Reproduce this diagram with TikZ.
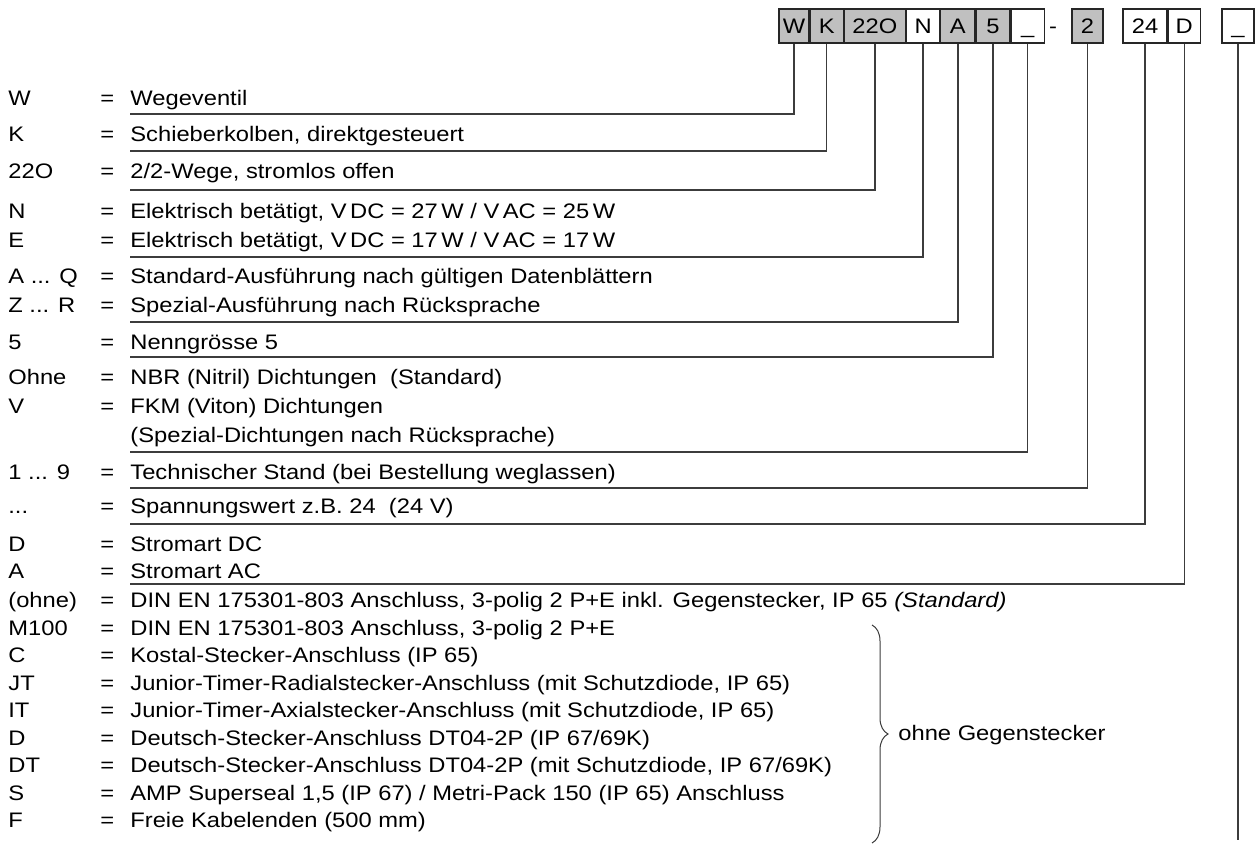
\documentclass[tikz,border=0pt]{standalone}
\usepackage{fontspec}
\setmainfont{Liberation Sans}[FakeStretch=1.13]
\usepackage{tikz}
\usetikzlibrary{positioning,decorations.pathreplacing}
\definecolor{codegray}{HTML}{C0C0C0}
\definecolor{linegray}{HTML}{3C3C3C}
\newcommand{\entry}[2]{\makebox[46pt][l]{#1}\makebox[15pt][l]{=}#2}
\tikzset{
  codebox/.style={draw=black!85,line width=0.6pt,minimum height=17pt,inner sep=0pt,
    text height=7.5pt,text depth=0pt,font=\fontsize{10.5}{12}\selectfont},
  graybox/.style={codebox,fill=codegray},
  row/.style={anchor=base west,inner sep=0pt,font=\fontsize{10.5}{12}\selectfont},
  leader/.style={draw=linegray,line width=0.7pt}
}

\begin{document}
\begin{tikzpicture}[x=0.5pt,y=-0.5pt]
  \useasboundingbox (0,0) rectangle (1255,849);
  % type code
  \node[graybox,minimum width=15pt] (bW) at (794,26) {W};
  \node[graybox,minimum width=16.5pt,right=0pt of bW] (bK) {K};
  \node[graybox,minimum width=30.5pt,right=0pt of bK] (b22O) {22O};
  \node[codebox,minimum width=16.5pt,right=0pt of b22O] (bN) {N};
  \node[graybox,minimum width=17pt,right=0pt of bN] (bA) {A};
  \node[graybox,minimum width=17pt,right=0pt of bA] (b5) {5};
  \node[codebox,minimum width=16.5pt,right=0pt of b5] (bU) {\_};
  \node[codebox,draw=none,minimum width=6pt] (dash) at (1053,26) {-};
  \node[graybox,minimum width=15.5pt] (b2) at (1087.5,26) {2};
  \node[codebox,minimum width=22pt] (b24) at (1145,26) {24};
  \node[codebox,minimum width=16pt,right=0pt of b24] (bD) {D};
  \node[codebox,minimum width=16pt] (bX) at (1238,26) {\_};

  % legend
  \node[row] (rW) at (8,106) {\entry{W}{Wegeventil}};
  \node[row] (rK) at (8,142) {\entry{K}{Schieberkolben, direktgesteuert}};
  \node[row] (r22O) at (8,179) {\entry{22O}{2/2-Wege, stromlos offen}};
  \node[row] (rN) at (8,219) {\entry{N}{Elektrisch betätigt, V\,DC = 27\,W / V\,AC = 25\,W}};
  \node[row] (rE) at (8,248) {\entry{E}{Elektrisch betätigt, V\,DC = 17\,W / V\,AC = 17\,W}};
  \node[row] (rAQ) at (8,284) {\entry{A ... Q}{Standard-Ausführung nach gültigen Datenblättern}};
  \node[row] (rZR) at (8,313) {\entry{Z ... R}{Spezial-Ausführung nach Rücksprache}};
  \node[row] (r5) at (8,350) {\entry{5}{Nenngrösse 5}};
  \node[row] (rOhne) at (8,385) {\entry{Ohne}{NBR (Nitril) Dichtungen\ \ (Standard)}};
  \node[row] (rV) at (8,414) {\entry{V}{FKM (Viton) Dichtungen}};
  \node[row] (rSp) at (130,443) {(Spezial-Dichtungen nach Rücksprache)};
  \node[row] (r19) at (8,480) {\entry{1 ... 9}{Technischer Stand (bei Bestellung weglassen)}};
  \node[row] (rDots) at (8,514) {\entry{...}{Spannungswert z.B. 24\ \ (24 V)}};
  \node[row] (rDC) at (8,552) {\entry{D}{Stromart DC}};
  \node[row] (rAC) at (8,579) {\entry{A}{Stromart AC}};
  \node[row] (rOhne2) at (8,608) {\entry{(ohne)}{DIN EN 175301-803 Anschluss, 3-polig 2 P+E inkl. Gegenstecker, IP 65 \textit{(Standard)}}};
  \node[row] (rM100) at (8,635.5) {\entry{M100}{DIN EN 175301-803 Anschluss, 3-polig 2 P+E}};
  \node[row] (rC) at (8,663) {\entry{C}{Kostal-Stecker-Anschluss (IP 65)}};
  \node[row] (rJT) at (8,690.5) {\entry{JT}{Junior-Timer-Radialstecker-Anschluss (mit Schutzdiode, IP 65)}};
  \node[row] (rIT) at (8,718) {\entry{IT}{Junior-Timer-Axialstecker-Anschluss (mit Schutzdiode, IP 65)}};
  \node[row] (rDe) at (8,745.5) {\entry{D}{Deutsch-Stecker-Anschluss DT04-2P (IP 67/69K)}};
  \node[row] (rDT) at (8,773) {\entry{DT}{Deutsch-Stecker-Anschluss DT04-2P (mit Schutzdiode, IP 67/69K)}};
  \node[row] (rS) at (8,800.5) {\entry{S}{AMP Superseal 1,5 (IP 67) / Metri-Pack 150 (IP 65) Anschluss}};
  \node[row] (rF) at (8,828) {\entry{F}{Freie Kabelenden (500 mm)}};

  % leader ends
  \coordinate (lW) at (130,114);
  \coordinate (lK) at (130,151);
  \coordinate (l22O) at (130,190);
  \coordinate (lN) at (130,257);
  \coordinate (lA) at (130,322);
  \coordinate (l5) at (130,357);
  \coordinate (lU) at (130,452);
  \coordinate (l2) at (130,488);
  \coordinate (l24) at (130,524);
  \coordinate (lD) at (130,584);
  \coordinate (lX) at (1238,840);

  \draw[leader] (bW.south) |- (lW);
  \draw[leader] (bK.south) |- (lK);
  \draw[leader] (b22O.south) |- (l22O);
  \draw[leader] (bN.south) |- (lN);
  \draw[leader] (bA.south) |- (lA);
  \draw[leader] (b5.south) |- (l5);
  \draw[leader] (bU.south) |- (lU);
  \draw[leader] (b2.south) |- (l2);
  \draw[leader] (b24.south) |- (l24);
  \draw[leader] (bD.south) |- (lD);
  \draw[leader] (bX.south) -- (lX);

  % connectors without mating plug
  \coordinate (brT) at (872,625);
  \coordinate (brB) at (872,843);
  \draw[leader,line width=0.5pt,decorate,decoration={brace,amplitude=8pt}] (brT) -- (brB);
  \node[row,anchor=west] (ohne) at (898,735) {ohne Gegenstecker};
\end{tikzpicture}
\end{document}
